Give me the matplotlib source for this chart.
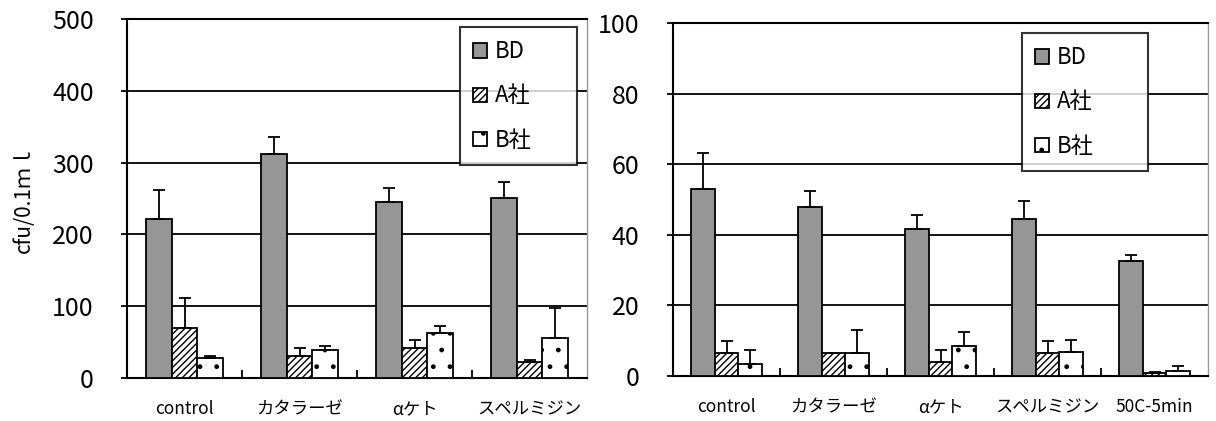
import numpy as np
import matplotlib
matplotlib.use("Agg")
import matplotlib.pyplot as plt
from matplotlib.ticker import FixedLocator

plt.rcParams['font.family'] = ['Noto Sans CJK JP', 'DejaVu Sans']
plt.rcParams['hatch.linewidth'] = 1.0

# left panel data
cats1 = ['control', 'カタラーゼ', 'αケト', 'スペルミジン']
bd1 = [222, 312, 245, 251]
bd1_err = [40, 23, 19, 22]
a1 = [70, 31, 42, 22]
a1_err = [42, 11, 11, 3]
b1 = [28, 39, 62, 56]
b1_err = [3, 5, 11, 42]

# right panel data
cats2 = ['control', 'カタラーゼ', 'αケト', 'スペルミジン', '50C-5min']
bd2 = [53, 48, 41.7, 44.5, 32.6]
bd2_err = [10.2, 4.5, 4, 5.2, 1.7]
a2 = [6.4, 6.4, 4.1, 6.4, 0.8]
a2_err = [3.4, 0, 3.4, 3.4, 0.3]
b2 = [3.5, 6.4, 8.6, 6.9, 1.3]
b2_err = [3.9, 6.7, 4.0, 3.3, 1.5]

W, H = 1216, 421
fig = plt.figure(figsize=(W/100, H/100), dpi=100)

def panel(rect, cats, bd, bde, a, ae, b, be, ymax, step, legrect):
    ax = fig.add_axes(rect)
    n = len(cats)
    x = np.arange(n)
    w = 0.223
    ekw = dict(ecolor='black', elinewidth=1.3, capsize=4, capthick=1.3)
    z = np.zeros(n)
    ax.bar(x - w, bd, w, color='#969696', edgecolor='black', lw=1.3,
           yerr=[z, bde], error_kw=ekw, label='BD', zorder=3)
    ax.bar(x, a, w, color='white', edgecolor='black', lw=1.3, hatch='/////',
           yerr=[z, ae], error_kw=ekw, label='A社', zorder=3)
    ax.bar(x + w, b, w, color='white', edgecolor='black', lw=1.3, hatch='.',
           yerr=[z, be], error_kw=ekw, label='B社', zorder=3)
    ax.set_xlim(-0.5, n - 0.5)
    ax.set_ylim(0, ymax)
    ax.set_yticks(np.arange(0, ymax + 1, step))
    ax.yaxis.grid(True, color='black', lw=1.3, zorder=0)
    ax.set_axisbelow(True)
    ax.tick_params(axis='y', labelsize=18, direction='out', length=4, width=1.3, pad=20)
    ax.set_xticks(x)
    ax.set_xticklabels(cats, fontsize=12.5)
    ax.tick_params(axis='x', length=0, pad=16)
    ax.xaxis.set_minor_locator(FixedLocator(np.arange(0.5, n - 0.5, 1)))
    ax.tick_params(axis='x', which='minor', direction='in', length=6, width=1.3)
    for s in ['left', 'bottom', 'top']:
        ax.spines[s].set_linewidth(1.5)
        ax.spines[s].set_color('black')
    ax.spines['right'].set_color('#999999')
    ax.spines['right'].set_linewidth(1.0)
    leg = ax.legend(loc='upper left', bbox_to_anchor=legrect, bbox_transform=fig.transFigure,
                    mode='expand', fontsize=16, frameon=True, fancybox=False,
                    handlelength=0.6, handleheight=0.6, handletextpad=0.35,
                    labelspacing=0.95, borderaxespad=0, borderpad=0.6)
    leg.get_frame().set_edgecolor('black')
    leg.get_frame().set_linewidth(1.5)
    leg.set_zorder(5)
    return ax

ax1 = panel([127/W, 43/H, 460/W, 359/H], cats1, bd1, bd1_err, a1, a1_err, b1, b1_err,
            500, 100, (460/W, 1 - 161/H, 117/W, 134/H))
ax1.set_ylabel('cfu/0.1ｍｌ', fontsize=15, labelpad=12)
ax2 = panel([673/W, 45/H, 535/W, 353/H], cats2, bd2, bd2_err, a2, a2_err, b2, b2_err,
            100, 20, (1022/W, 1 - 167/H, 126/W, 134/H))

fig.savefig('out.png', dpi=100)
